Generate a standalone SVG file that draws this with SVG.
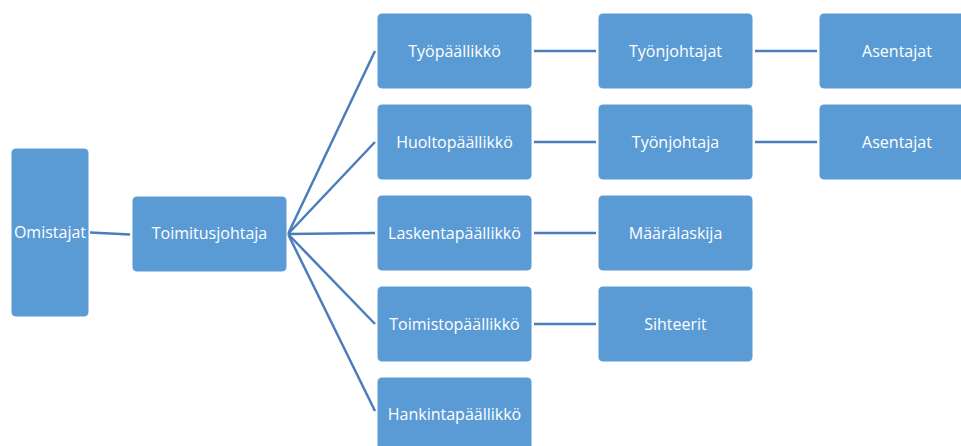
<svg xmlns="http://www.w3.org/2000/svg" width="961" height="446" viewBox="0 0 961 446">
  <style>
    .box { fill: #5b9bd5; stroke: #ffffff; stroke-width: 1; }
    .lbl { fill: #ffffff; font-family: "Open Sans", "Noto Sans", sans-serif; font-size: 16px; text-anchor: middle; dominant-baseline: central; }
    .link { stroke: #4a7ebb; stroke-width: 2.5; fill: none; }
  </style>
  <rect width="961" height="446" fill="#ffffff"/>

  <!-- connectors -->
  <g id="connectors">
    <line class="link" x1="90" y1="232.5" x2="130" y2="234.5"/>
    <line class="link" x1="288" y1="234" x2="375" y2="51"/>
    <line class="link" x1="288" y1="234" x2="375" y2="142"/>
    <line class="link" x1="288" y1="234" x2="375" y2="233"/>
    <line class="link" x1="288" y1="234" x2="375" y2="324"/>
    <line class="link" x1="288" y1="234" x2="375" y2="411"/>
    <line class="link" x1="534" y1="51" x2="596" y2="51"/>
    <line class="link" x1="755" y1="51" x2="817" y2="51"/>
    <line class="link" x1="534" y1="142" x2="596" y2="142"/>
    <line class="link" x1="755" y1="142" x2="817" y2="142"/>
    <line class="link" x1="534" y1="233" x2="596" y2="233"/>
    <line class="link" x1="534" y1="324" x2="596" y2="324"/>
  </g>

  <g id="omistajat">
    <rect class="box" x="11" y="148" width="78" height="169" rx="5"/>
    <text class="lbl" x="50" y="232">Omistajat</text>
  </g>
  <g id="toimitusjohtaja">
    <rect class="box" x="132" y="196" width="155" height="76" rx="5"/>
    <text class="lbl" x="209.5" y="233">Toimitusjohtaja</text>
  </g>

  <g id="tyopaallikko">
    <rect class="box" x="377" y="13" width="155" height="76" rx="5"/>
    <text class="lbl" x="454.5" y="51">Työpäällikkö</text>
  </g>
  <g id="huoltopaallikko">
    <rect class="box" x="377" y="104" width="155" height="76" rx="5"/>
    <text class="lbl" x="454.5" y="142">Huoltopäällikkö</text>
  </g>
  <g id="laskentapaallikko">
    <rect class="box" x="377" y="195" width="155" height="76" rx="5"/>
    <text class="lbl" x="454.5" y="233">Laskentapäällikkö</text>
  </g>
  <g id="toimistopaallikko">
    <rect class="box" x="377" y="286" width="155" height="76" rx="5"/>
    <text class="lbl" x="454.5" y="324">Toimistopäällikkö</text>
  </g>
  <g id="hankintapaallikko">
    <rect class="box" x="377" y="377" width="155" height="76" rx="5"/>
    <text class="lbl" x="454.5" y="414">Hankintapäällikkö</text>
  </g>

  <g id="tyonjohtajat">
    <rect class="box" x="598" y="13" width="155" height="76" rx="5"/>
    <text class="lbl" x="675.5" y="51">Työnjohtajat</text>
  </g>
  <g id="tyonjohtaja">
    <rect class="box" x="598" y="104" width="155" height="76" rx="5"/>
    <text class="lbl" x="675.5" y="142">Työnjohtaja</text>
  </g>
  <g id="maaralaskija">
    <rect class="box" x="598" y="195" width="155" height="76" rx="5"/>
    <text class="lbl" x="675.5" y="233">Määrälaskija</text>
  </g>
  <g id="sihteerit">
    <rect class="box" x="598" y="286" width="155" height="76" rx="5"/>
    <text class="lbl" x="675.5" y="324">Sihteerit</text>
  </g>

  <g id="asentajat-1">
    <rect class="box" x="819" y="13" width="155" height="76" rx="5"/>
    <text class="lbl" x="897" y="51">Asentajat</text>
  </g>
  <g id="asentajat-2">
    <rect class="box" x="819" y="104" width="155" height="76" rx="5"/>
    <text class="lbl" x="897" y="142">Asentajat</text>
  </g>
</svg>
